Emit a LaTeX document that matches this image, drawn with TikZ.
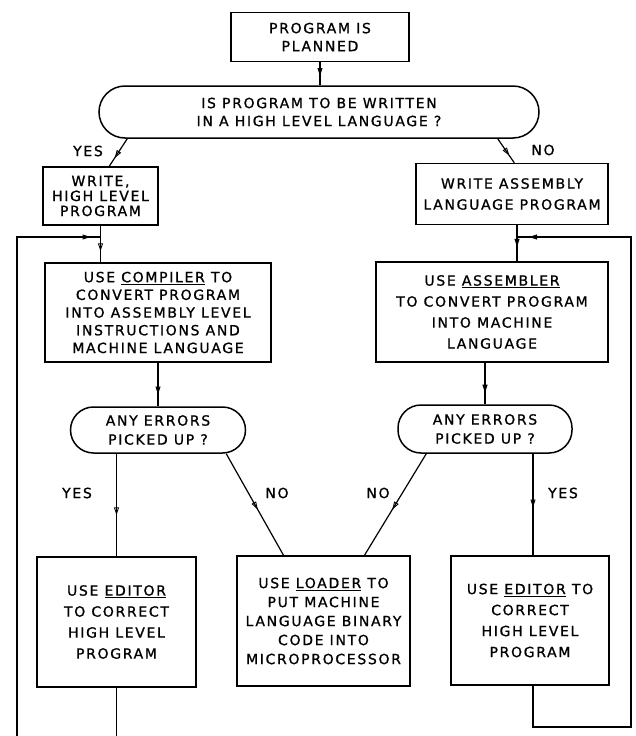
\documentclass[tikz,border=0pt]{standalone}
\usepackage{fontspec}
\setmainfont{DejaVu Sans}[LetterSpace=12, FakeBold=1]
\usetikzlibrary{arrows.meta,decorations.markings,calc}

\tikzset{
  box/.style={draw, line width=1.5pt, align=center, inner sep=0pt,
    font=\fontsize{14}{18}\selectfont},
  lead/.style={font=\fontsize{14}{18}\selectfont, inner sep=0pt},
  flow/.style={line width=1.2pt, postaction={decorate},
    decoration={markings, mark=at position #1 with
      {\arrow{Triangle[open,length=8pt,width=5pt,line width=0.9pt]}}}},
  flow/.default=0.5,
  plain/.style={line width=1.2pt}
}

\begin{document}
\begin{tikzpicture}[x=1pt,y=-1pt]
\fill[white] (0,0) rectangle (636,736);
\useasboundingbox (0,0) rectangle (636,736);

% start and the first decision
\node[box, minimum width=178pt, minimum height=49pt] (plan) at (320,37)
  {PROGRAM IS\\PLANNED};
\node[box, rounded corners=26pt, minimum width=440pt, minimum height=52pt] (lang) at (319,112)
  {IS PROGRAM TO BE WRITTEN\\IN A HIGH LEVEL LANGUAGE ?};

% writing the program
\node[box, minimum width=115pt, minimum height=58pt, font=\fontsize{14}{15}\selectfont] (whl) at (100.5,196)
  {WRITE,\\HIGH LEVEL\\PROGRAM};
\node[box, minimum width=192pt, minimum height=61pt, font=\fontsize{14}{21}\selectfont] (was) at (512,194)
  {WRITE ASSEMBLY\\LANGUAGE PROGRAM};

% translation
\node[box, minimum width=226pt, minimum height=99pt, font=\fontsize{14}{17.7}\selectfont] (comp) at (158,312.5)
  {USE \underline{COMPILER} TO\\CONVERT PROGRAM\\INTO ASSEMBLY LEVEL\\INSTRUCTIONS AND\\MACHINE LANGUAGE};
\node[box, minimum width=232pt, minimum height=100pt, font=\fontsize{14}{21}\selectfont] (asm) at (492,312)
  {USE \underline{ASSEMBLER}\\TO CONVERT PROGRAM\\INTO MACHINE\\LANGUAGE};

% error checks
\node[box, rounded corners=23pt, minimum width=175pt, minimum height=46pt, font=\fontsize{14}{19}\selectfont] (errl) at (158,430)
  {ANY ERRORS\\PICKED UP ?};
\node[box, rounded corners=23pt, minimum width=174pt, minimum height=48pt, font=\fontsize{14}{19}\selectfont] (errr) at (485,429)
  {ANY ERRORS\\PICKED UP ?};

% outcomes
\node[box, minimum width=159pt, minimum height=130pt, font=\fontsize{14}{21}\selectfont] (edl) at (116.5,622)
  {USE \underline{EDITOR}\\TO CORRECT\\HIGH LEVEL\\PROGRAM};
\node[box, minimum width=173pt, minimum height=130pt, font=\fontsize{14}{19}\selectfont] (load) at (323.5,621)
  {USE \underline{LOADER} TO\\PUT MACHINE\\LANGUAGE BINARY\\CODE INTO\\MICROPROCESSOR};
\node[box, minimum width=158pt, minimum height=129pt, font=\fontsize{14}{21}\selectfont] (edr) at (530,620.5)
  {USE \underline{EDITOR} TO\\CORRECT\\HIGH LEVEL\\PROGRAM};

% branch labels
\node[lead] (y1) at (88,151) {YES};
\node[lead] (n1) at (543,150) {NO};
\node[lead] (y2) at (77,493) {YES};
\node[lead] (n2) at (277,493) {NO};
\node[lead] (n3) at (378,493) {NO};
\node[lead] (y3) at (563,493) {YES};

% loop corners
\coordinate (cl) at (17,237);
\coordinate (bl) at (17,736);
\coordinate (br) at (631,727);
\coordinate (jr) at ($(was.south)+(5,0)$);

% connectors
\draw[flow=0.6] (plan.south) -- (plan.south |- lang.north);
\draw[flow=0.7] ($(lang.south west)+(29,0)$) -- ($(whl.north west)+(67,0)$);
\draw[flow=0.7] ($(lang.south east)+(-42,0)$) -- ($(was.north west)+(99,0)$);
\draw[flow=0.7] (whl.south) -- (whl.south |- comp.north);
\draw[flow=0.6] (jr) -- (jr |- asm.north);
\draw[flow=0.73] (comp.south) -- (errl.north);
\draw[flow=0.72] (errr.north |- asm.south) -- (errr.north);
\draw[flow=0.6] (edl.north |- errl.south) -- (edl.north);
\draw[flow=0.55] ($(errl.south east)+(-20,0)$) -- ($(load.north)+(-40,0)$);
\draw[flow=0.55] ($(errr.south west)+(29,0)$) -- ($(load.north)+(41,0)$);
\draw[flow=0.53] ($(edr.north |- errr.south)+(3,0)$) -- ($(edr.north)+(3,0)$);

% return paths to the translation steps
\draw[flow=-10pt] (bl) -- (cl) -- (cl -| whl.south);
\draw[plain] (edl.south) -- (edl.south |- bl);
\draw[flow=-12pt] ($(edr.south)+(3,0)$) -- ($(edr.south |- br)+(3,0)$) -- (br) -- (br |- cl) -- (jr |- cl);
\end{tikzpicture}
\end{document}
